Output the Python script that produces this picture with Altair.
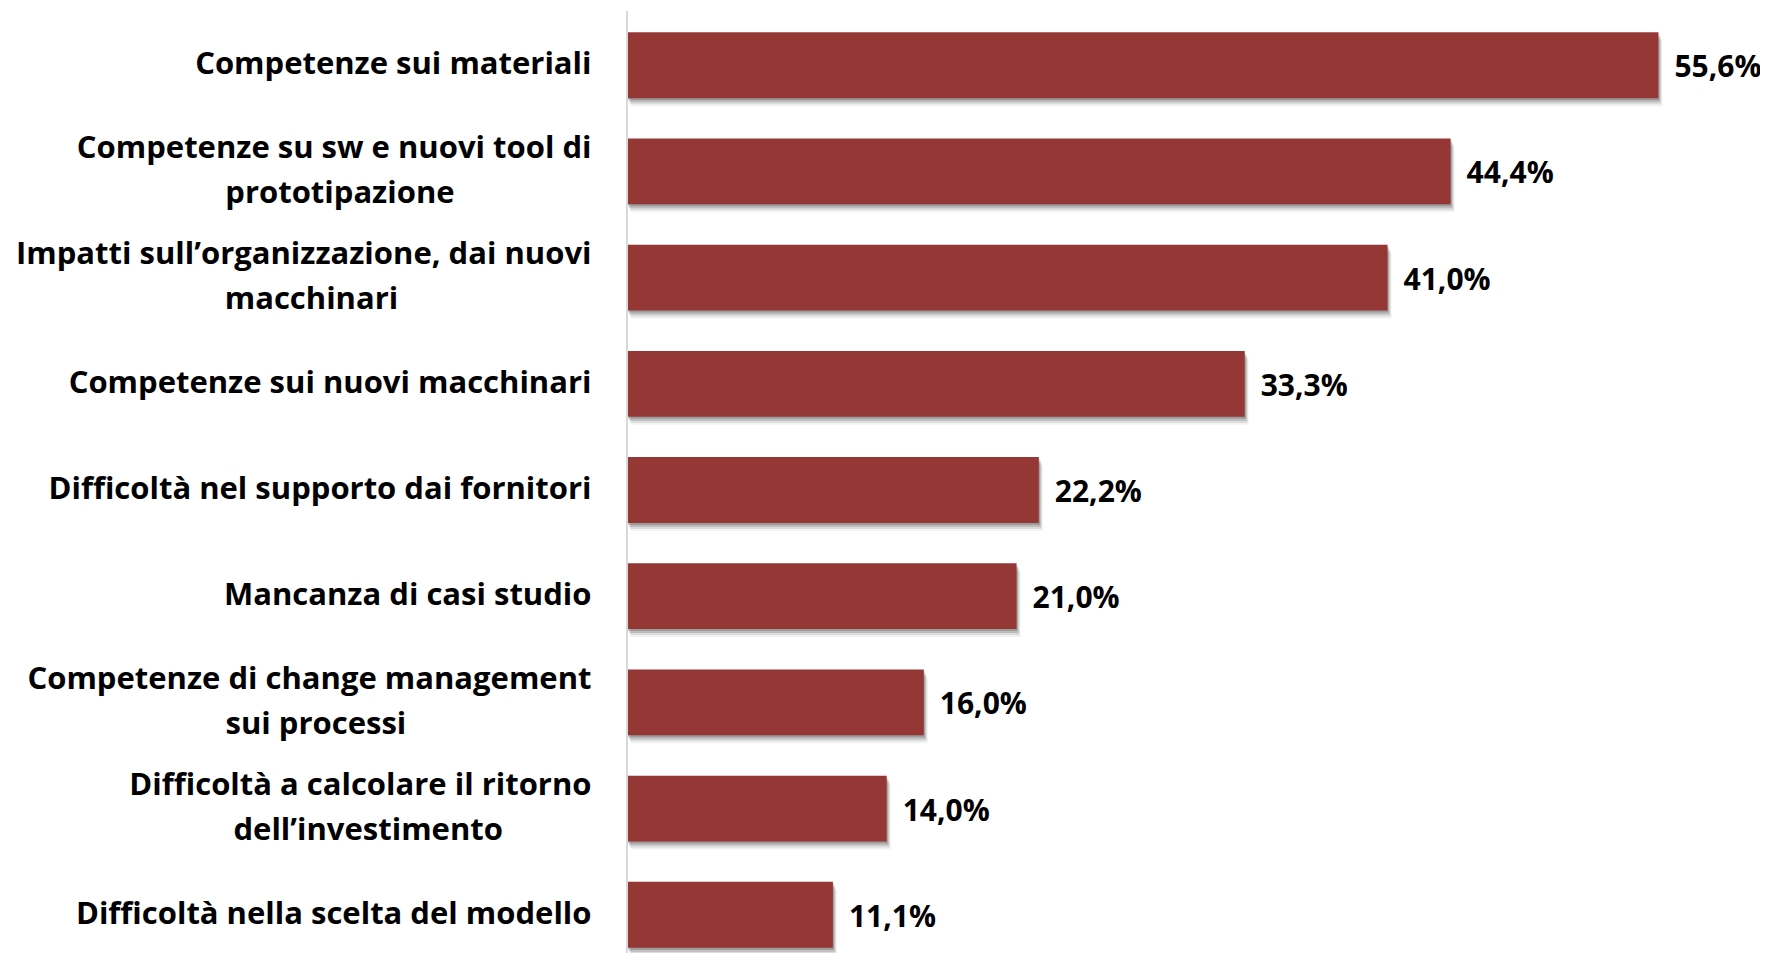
import altair as alt
import pandas as pd

categories = [
    "Competenze sui materiali",
    "Competenze su sw e nuovi tool di|prototipazione",
    "Impatti sull\u2019organizzazione, dai nuovi|macchinari",
    "Competenze sui nuovi macchinari",
    "Difficoltà nel supporto dai fornitori",
    "Mancanza di casi studio",
    "Competenze di change management|sui processi",
    "Difficoltà a calcolare il ritorno|dell\u2019investimento",
    "Difficoltà nella scelta del modello",
]
values = [55.6, 44.4, 41.0, 33.3, 22.2, 21.0, 16.0, 14.0, 11.1]

FONT = "Open Sans"
BAR = "#953735"
LINE_H = 45

# approximate Open Sans Bold advance widths (font units / 2048) to centre the
# second line of two-line labels under the first one
_W = {
    " ": 532, "a": 1186, "b": 1264, "c": 1022, "d": 1264, "e": 1180, "f": 780,
    "g": 1124, "h": 1313, "i": 606, "j": 606, "k": 1227, "l": 606, "m": 1956,
    "n": 1313, "o": 1235, "p": 1264, "q": 1264, "r": 895, "s": 993, "t": 831,
    "u": 1313, "v": 1145, "w": 1694, "x": 1165, "y": 1145, "z": 979,
    ",": 530, ".": 586, "\u2019": 530, "à": 1186, "C": 1292, "D": 1479, "I": 677,
    "M": 1800,
}


def _width(s):
    return sum(_W.get(ch, 1200) for ch in s)


def display_label(cat):
    parts = cat.split("|")
    if len(parts) == 1:
        return cat
    l1, l2 = parts
    k = max(0, round((_width(l1) - _width(l2)) / 2 / _W[" "]))
    return l1 + "|" + l2 + "\u00a0" * k + "\u2060"


disp = [display_label(c) for c in categories]
df = pd.DataFrame({"cat": disp, "val": values})

y_enc = alt.Y(
    "cat:N",
    sort=disp,
    scale=alt.Scale(paddingInner=0.38, paddingOuter=0.05),
    axis=alt.Axis(
        title=None,
        domain=False,
        ticks=False,
        labelExpr="indexof(datum.label, '|') >= 0 ? split(datum.label, '|') : datum.label",
        labelFont=FONT,
        labelFontWeight="bold",
        labelFontSize=31,
        labelColor="#000000",
        labelLineHeight=LINE_H,
        labelPadding=36,
        labelAlign="right",
        labelBaseline="middle",
        labelLimit=1200,
        labelOffset={
            "condition": {"test": "indexof(datum.label, '|') >= 0", "value": -LINE_H / 2},
            "value": 0,
        },
    ),
)
x_enc = alt.X("val:Q", scale=alt.Scale(domain=[0, 60]), axis=None)

base = alt.Chart(df)

shadows = [
    base.mark_bar(color="#000000", opacity=op, xOffset=dx, yOffset=dy).encode(x=x_enc, y=y_enc)
    for dx, dy, op in [(4, 8, 0.05), (3, 6, 0.09), (2, 4, 0.14), (1, 2, 0.18)]
]

bars = base.mark_bar(color=BAR).encode(x=x_enc, y=y_enc)

labels = base.mark_text(
    align="left", baseline="middle", dx=16, dy=3,
    font=FONT, fontWeight="bold", fontSize=30, color="#000000",
).encode(
    x=x_enc, y=y_enc,
    text="lbl:N",
).transform_calculate(
    lbl="replace(format(datum.val, '.1f'), '.', ',') + '%'"
)

axis_line = alt.Chart(df).mark_rule(color="#d9d9d9", strokeWidth=2).encode(
    x=alt.value(0), y=alt.value(-16), y2=alt.value(926)
)

chart = alt.layer(*shadows, bars, axis_line, labels).properties(
    width=1113,
    height=926,
    background="#ffffff",
    autosize=alt.AutoSizeParams(type="none"),
    padding={"left": 619, "top": 19, "right": 20, "bottom": 0},
).configure_view(strokeWidth=0, stroke="transparent")

chart.save("out.html", embed_options={"renderer": "svg", "actions": False})
